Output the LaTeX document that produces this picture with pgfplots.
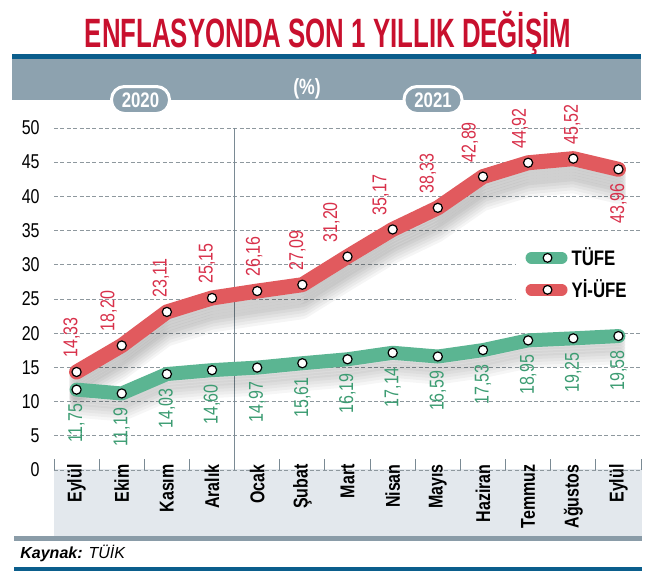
\documentclass[border=0pt]{standalone}
\usepackage{pgfplots}
\pgfplotsset{compat=1.18}
\usepackage{pgfplotstable}
\usepackage{fontspec}
\setmainfont{Liberation Sans}[FakeStretch=0.8]
\newfontfamily\titlefont{Liberation Sans}[FakeStretch=0.63]
\newfontfamily\widefont{Liberation Sans}

\definecolor{titlered}{HTML}{C8102E}
\definecolor{barblue}{HTML}{0B5E8C}
\definecolor{bandgray}{HTML}{8DA2AF}
\definecolor{lowband}{HTML}{E3E8ED}
\definecolor{lowstrip}{HTML}{8A9CA8}
\definecolor{tred}{HTML}{E15A5E}
\definecolor{tgreen}{HTML}{5BB592}
\definecolor{rlabel}{HTML}{D8304A}
\definecolor{glabel}{HTML}{3C9C72}
\definecolor{gridgray}{HTML}{8E989E}
\definecolor{sepgray}{HTML}{7A8A94}

\pgfplotstableread{
x tufe yiufe rdx
0 11.75 14.33 2.5
1 11.19 18.20 6.5
2 14.03 23.11 3
3 14.60 25.15 2.5
4 14.97 26.16 1.5
5 15.61 27.09 2.5
6 16.19 31.20 8
7 17.14 35.17 6
8 16.59 38.33 5
9 17.53 42.89 6.5
10 18.95 44.92 4
11 19.25 45.52 0.5
12 19.58 43.96 0.5
}\data

\pgfplotsset{
  shadowG/.style={forget plot, draw=black, opacity=0.035, line width=7pt, line join=round, line cap=round},
  shadowR/.style={forget plot, draw=black, opacity=0.04, line width=7.5pt, line join=round, line cap=round},
}

\begin{document}
\begin{tikzpicture}
\path[use as bounding box] (0,0) rectangle (323pt,292.5pt);
% title
\node[inner sep=0pt] at (164pt,275.5pt) {\resizebox{243pt}{!}{\titlefont\bfseries\fontsize{17.5}{17.5}\selectfont\color{titlered}ENFLASYONDA SON 1 YILLIK DEĞİŞİM}};
% top bands
\fill[barblue] (6pt,263pt) rectangle (320.5pt,265.5pt);
\fill[bandgray] (6pt,242.5pt) rectangle (320.5pt,263pt);
\node[text=white, font=\bfseries\fontsize{11}{11}\selectfont] at (153.5pt,248pt) {(\%)};
\node[fill=bandgray, draw=white, line width=1.5pt, rounded corners=6.5pt, minimum width=29pt, minimum height=13.5pt, text=white, font=\bfseries\fontsize{10.5}{10.5}\selectfont, inner sep=0pt] at (70.25pt,242.5pt) {2020};
\node[fill=bandgray, draw=white, line width=1.5pt, rounded corners=6.5pt, minimum width=29pt, minimum height=13.5pt, text=white, font=\bfseries\fontsize{10.5}{10.5}\selectfont, inner sep=0pt] at (216.5pt,242.5pt) {2021};
% lower band
\fill[lowband] (27pt,24.5pt) rectangle (321pt,58pt);
\fill[lowstrip] (7pt,22pt) rectangle (321pt,24.5pt);
\node[anchor=west, inner sep=0pt, font=\widefont\itshape\fontsize{8}{8}\selectfont] at (10pt,16pt) {\textbf{Kaynak:} TÜİK};
\fill[barblue] (7pt,7pt) rectangle (321pt,9pt);

\begin{axis}[
  at={(27pt,57.5pt)}, anchor=south west,
  scale only axis, width=293.5pt, height=171pt,
  xmin=-0.5, xmax=12.5, ymin=0, ymax=50,
  clip=false,
  axis line style={draw=none},
  /pgf/number format/assume math mode=true,
  xtick={0,...,12},
  xticklabels={Eylül,Ekim,Kasım,Aralık,Ocak,Şubat,Mart,Nisan,Mayıs,Haziran,Temmuz,Ağustos,Eylül},
  minor xtick={-0.5,0.5,...,12.5},
  extra x ticks={3.5}, extra x tick labels={},
  extra x tick style={grid=major, major grid style={solid, draw=sepgray, line width=0.5pt}},
  ytick={0,5,...,50},
  ymajorgrids,
  major grid style={dash pattern=on 2pt off 1.2pt, draw=gridgray, line width=0.35pt},
  major tick length=0pt, minor tick length=5.5pt,
  xtick pos=bottom, ytick pos=left, xtick align=inside,
  minor tick style={draw=sepgray, line width=0.5pt},
  xticklabel style={yshift=3pt, rotate=90, anchor=east, inner sep=0pt, font=\bfseries\fontsize{10}{10}\selectfont},
  yticklabel style={anchor=east, inner sep=0pt, xshift=-7pt, font=\fontsize{10}{10}\selectfont},
  legend style={at={(1,0.693)}, anchor=north east, draw=none, fill=white, font=\bfseries\fontsize{10.5}{10.5}\selectfont, inner xsep=5pt, inner ysep=5pt, row sep=1.5pt},
  legend cell align=left,
  legend image code/.code={
    \draw[#1, line width=6pt, line cap=round, mark=none] (0pt,0pt) -- (15pt,0pt);
    \draw[black, fill=white, line width=0.6pt] (8pt,0pt) circle (2.2pt);
  },
]
% shadows (soft, stacked)
\addplot[shadowG, yshift=-1.5pt] table[x=x,y=tufe]{\data};
\addplot[shadowG, yshift=-3pt] table[x=x,y=tufe]{\data};
\addplot[shadowG, yshift=-4.5pt] table[x=x,y=tufe]{\data};
\addplot[shadowG, yshift=-6pt] table[x=x,y=tufe]{\data};
\addplot[shadowG, yshift=-7.5pt] table[x=x,y=tufe]{\data};
\addplot[shadowG, yshift=-9pt] table[x=x,y=tufe]{\data};
\addplot[shadowG, yshift=-10.5pt] table[x=x,y=tufe]{\data};
\addplot[shadowR, yshift=-1.5pt] table[x=x,y=yiufe]{\data};
\addplot[shadowR, yshift=-3pt] table[x=x,y=yiufe]{\data};
\addplot[shadowR, yshift=-4.5pt] table[x=x,y=yiufe]{\data};
\addplot[shadowR, yshift=-6pt] table[x=x,y=yiufe]{\data};
\addplot[shadowR, yshift=-7.5pt] table[x=x,y=yiufe]{\data};
\addplot[shadowR, yshift=-9pt] table[x=x,y=yiufe]{\data};
\addplot[shadowR, yshift=-10.5pt] table[x=x,y=yiufe]{\data};
\addplot[shadowR, yshift=-12pt] table[x=x,y=yiufe]{\data};
\addplot[shadowR, yshift=-13.5pt] table[x=x,y=yiufe]{\data};
% main lines
\addplot[color=tgreen, line width=7pt, line join=round, line cap=round, mark=*, mark size=2.3pt, mark options={fill=white, draw=black, line width=0.6pt, solid}] table[x=x,y=tufe]{\data};
\addlegendentry{TÜFE}
\addplot[color=tred, line width=7.5pt, line join=round, line cap=round, mark=*, mark size=2.3pt, mark options={fill=white, draw=black, line width=0.6pt, solid}] table[x=x,y=yiufe]{\data};
\addlegendentry{Yİ-ÜFE}
% labels
\addplot[forget plot, draw=none, mark=none, point meta=y,
  nodes near coords={\pgfmathprintnumber[fixed,fixed zerofill,precision=2,use comma,assume math mode=true]{\pgfplotspointmeta}},
  every node near coord/.style={yshift=-7pt, rotate=90, anchor=east, inner sep=0pt, text=glabel, font=\fontsize{10}{10}\selectfont}]
  table[x=x,y=tufe]{\data};
\addplot[forget plot, draw=none, mark=none, point meta=y,
  skip coords between index={12}{13},
  visualization depends on={\thisrow{rdx} \as \rdx},
  nodes near coords={\pgfmathprintnumber[fixed,fixed zerofill,precision=2,use comma,assume math mode=true]{\pgfplotspointmeta}},
  every node near coord/.style={xshift={-1pt*\rdx}, yshift=7pt, rotate=90, anchor=west, inner sep=0pt, text=rlabel, font=\fontsize{10}{10}\selectfont}]
  table[x=x,y=yiufe]{\data};
\addplot[forget plot, draw=none, mark=none, point meta=y,
  nodes near coords={\pgfmathprintnumber[fixed,fixed zerofill,precision=2,use comma,assume math mode=true]{\pgfplotspointmeta}},
  every node near coord/.style={yshift=-7pt, rotate=90, anchor=east, inner sep=0pt, text=rlabel, font=\fontsize{10}{10}\selectfont}]
  coordinates {(12,43.96)};
\end{axis}
\end{tikzpicture}
\end{document}
